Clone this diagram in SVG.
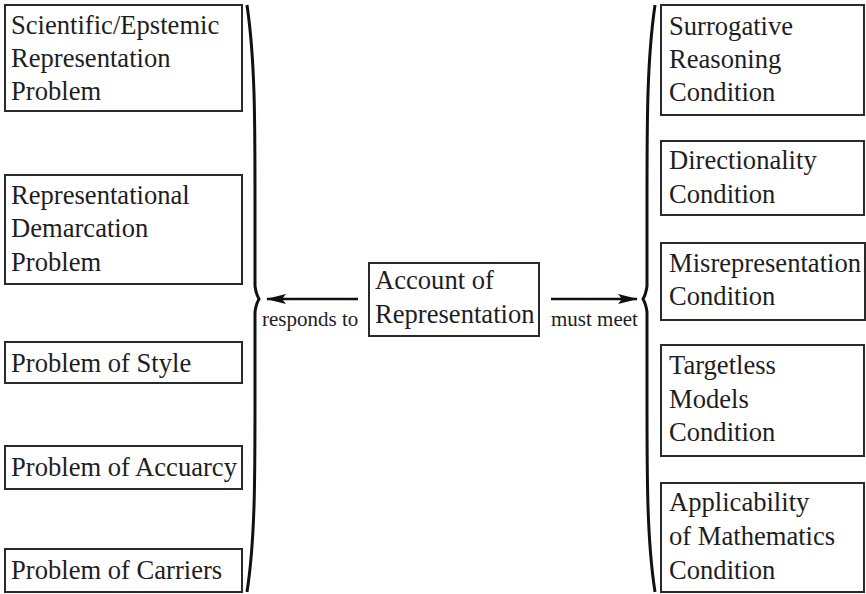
<svg xmlns="http://www.w3.org/2000/svg" width="866" height="594" viewBox="0 0 866 594">
  <style>
    .box { fill: #fff; stroke: #2a2a2a; stroke-width: 2; }
    .t { font-family: "Liberation Serif", "Times New Roman", serif; font-size: 26.6px; fill: #1e1e1e; }
    .lbl { font-family: "Liberation Serif", "Times New Roman", serif; font-size: 21px; fill: #1e1e1e; }
    .brace { fill: none; stroke: #111; stroke-width: 3; stroke-linejoin: miter; }
    .edge { stroke: #111; stroke-width: 2.5; fill: none; }
  </style>
  <defs>
    <marker id="arrow" viewBox="0 0 20 10" refX="19" refY="5" markerWidth="20" markerHeight="10" markerUnits="userSpaceOnUse" orient="auto">
      <path d="M0,0 L20,5 L0,10 L4,5 Z" fill="#111"/>
    </marker>
  </defs>
  <rect width="866" height="594" fill="#fff"/>

  <!-- problems (left column) -->
  <g id="scientific-problem">
    <rect class="box" x="5" y="5" width="237" height="106"/>
    <text class="t" x="11" y="34">Scientific/Epstemic</text>
    <text class="t" x="11" y="67">Representation</text>
    <text class="t" x="11" y="100">Problem</text>
  </g>
  <g id="demarcation-problem">
    <rect class="box" x="5" y="175" width="237" height="109"/>
    <text class="t" x="11" y="204">Representational</text>
    <text class="t" x="11" y="237">Demarcation</text>
    <text class="t" x="11" y="271">Problem</text>
  </g>
  <g id="style-problem">
    <rect class="box" x="5" y="342" width="237" height="41"/>
    <text class="t" x="11" y="372">Problem of Style</text>
  </g>
  <g id="accuracy-problem">
    <rect class="box" x="5" y="446" width="237" height="43"/>
    <text class="t" x="11" y="476">Problem of Accuarcy</text>
  </g>
  <g id="carriers-problem">
    <rect class="box" x="5" y="549" width="237" height="43"/>
    <text class="t" x="11" y="579">Problem of Carriers</text>
  </g>

  <!-- central account -->
  <g id="account">
    <rect class="box" x="369" y="263" width="170" height="73"/>
    <text class="t" x="375" y="289">Account of</text>
    <text class="t" x="375" y="323">Representation</text>
  </g>

  <!-- conditions (right column) -->
  <g id="surrogative-condition">
    <rect class="box" x="661" y="5" width="203" height="110"/>
    <text class="t" x="669" y="35">Surrogative</text>
    <text class="t" x="669" y="68">Reasoning</text>
    <text class="t" x="669" y="101">Condition</text>
  </g>
  <g id="directionality-condition">
    <rect class="box" x="661" y="141" width="203" height="74"/>
    <text class="t" x="669" y="169">Directionality</text>
    <text class="t" x="669" y="203">Condition</text>
  </g>
  <g id="misrepresentation-condition">
    <rect class="box" x="661" y="243" width="204" height="77"/>
    <text class="t" x="669" y="272">Misrepresentation</text>
    <text class="t" x="669" y="305">Condition</text>
  </g>
  <g id="targetless-condition">
    <rect class="box" x="661" y="345" width="203" height="111"/>
    <text class="t" x="669" y="374">Targetless</text>
    <text class="t" x="669" y="408">Models</text>
    <text class="t" x="669" y="441">Condition</text>
  </g>
  <g id="mathematics-condition">
    <rect class="box" x="661" y="483" width="203" height="109"/>
    <text class="t" x="669" y="511">Applicability</text>
    <text class="t" x="669" y="545">of Mathematics</text>
    <text class="t" x="669" y="579">Condition</text>
  </g>

  <!-- braces and arrows -->
  <g id="connectors">
    <path class="brace" d="M247,5 C255,60 255,120 255,200 L255,286 Q256,294 259,299 Q256,304 255,312 L255,400 C255,480 255,540 247,592"/>
    <path class="brace" d="M655,5 C647,60 647,120 647,200 L647,286 Q646,294 643,299 Q646,304 647,312 L647,400 C647,480 647,540 655,592"/>
    <line class="edge" x1="358" y1="299" x2="267" y2="299" marker-end="url(#arrow)"/>
    <text class="lbl" x="262" y="326">responds to</text>
    <line class="edge" x1="551" y1="299" x2="637" y2="299" marker-end="url(#arrow)"/>
    <text class="lbl" x="551" y="326">must meet</text>
  </g>
</svg>
